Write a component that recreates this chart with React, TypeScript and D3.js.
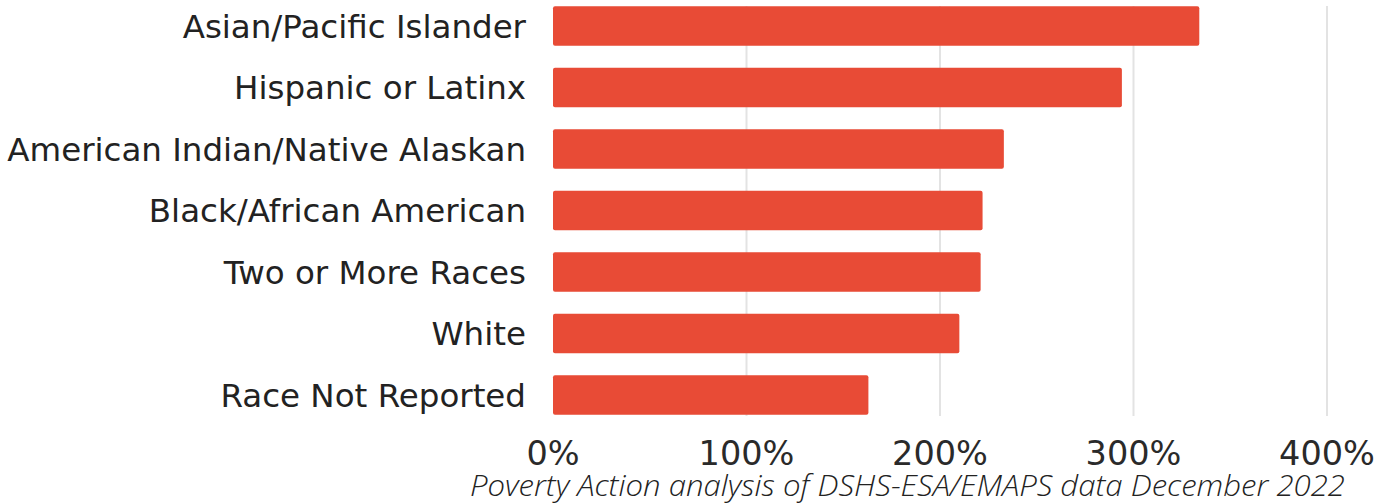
import React from "react";
import * as d3 from "d3";

const categories = [
  "Asian/Pacific Islander",
  "Hispanic or Latinx",
  "American Indian/Native Alaskan",
  "Black/African American",
  "Two or More Races",
  "White",
  "Race Not Reported",
];
const values = [3.34, 2.94, 2.33, 2.22, 2.21, 2.1, 1.63];
const ticks = [0, 1, 2, 3, 4];
const tickLabels = ["0%", "100%", "200%", "300%", "400%"];
const caption = "Poverty Action analysis of DSHS-ESA/EMAPS data December 2022";

export default function App() {
  const W = 1390, H = 504;
  const x = d3.scaleLinear().domain([0, 4]).range([553, 1327]);
  const y = d3
    .scaleBand<string>()
    .domain(categories)
    .range([-4.75, 425.75])
    .paddingInner(0.36)
    .paddingOuter(0.18);
  const font = "'DejaVu Sans', sans-serif";
  return (
    <div style={{ position: "absolute", left: 0, top: 0 }}>
      <svg width={W} height={H} viewBox={`0 0 ${W} ${H}`} style={{ display: "block", background: "#fff" }}>
        {ticks.slice(1).map((t) => (
          <line key={t} x1={x(t)} x2={x(t)} y1={6} y2={416} stroke="#e3e3e3" strokeWidth={2} />
        ))}
        {categories.map((c, i) => (
          <rect
            key={c}
            x={x(0)}
            y={y(c)}
            width={x(values[i]) - x(0)}
            height={y.bandwidth()}
            rx={2}
            fill="#E84B36"
          />
        ))}
        {categories.map((c) => (
          <text
            key={c}
            x={526}
            y={(y(c) as number) + y.bandwidth() / 2}
            dy="0.36em"
            textAnchor="end"
            fontFamily={font}
            fontSize={32.5}
            fill="#222"
          >
            {c}
          </text>
        ))}
        {ticks.map((t, i) => (
          <text key={t} x={x(t)} y={465} textAnchor="middle" fontFamily={font} fontSize={33.5} fill="#2a2a2a">
            {tickLabels[i]}
          </text>
        ))}
        <text
          x={1345}
          y={496}
          textAnchor="end"
          fontFamily="'Open Sans', sans-serif"
          fontStyle="italic"
          fontWeight={300}
          fontSize={30}
          fill="#222"
          textLength={875}
          lengthAdjust="spacingAndGlyphs"
        >
          {caption}
        </text>
      </svg>
    </div>
  );
}
